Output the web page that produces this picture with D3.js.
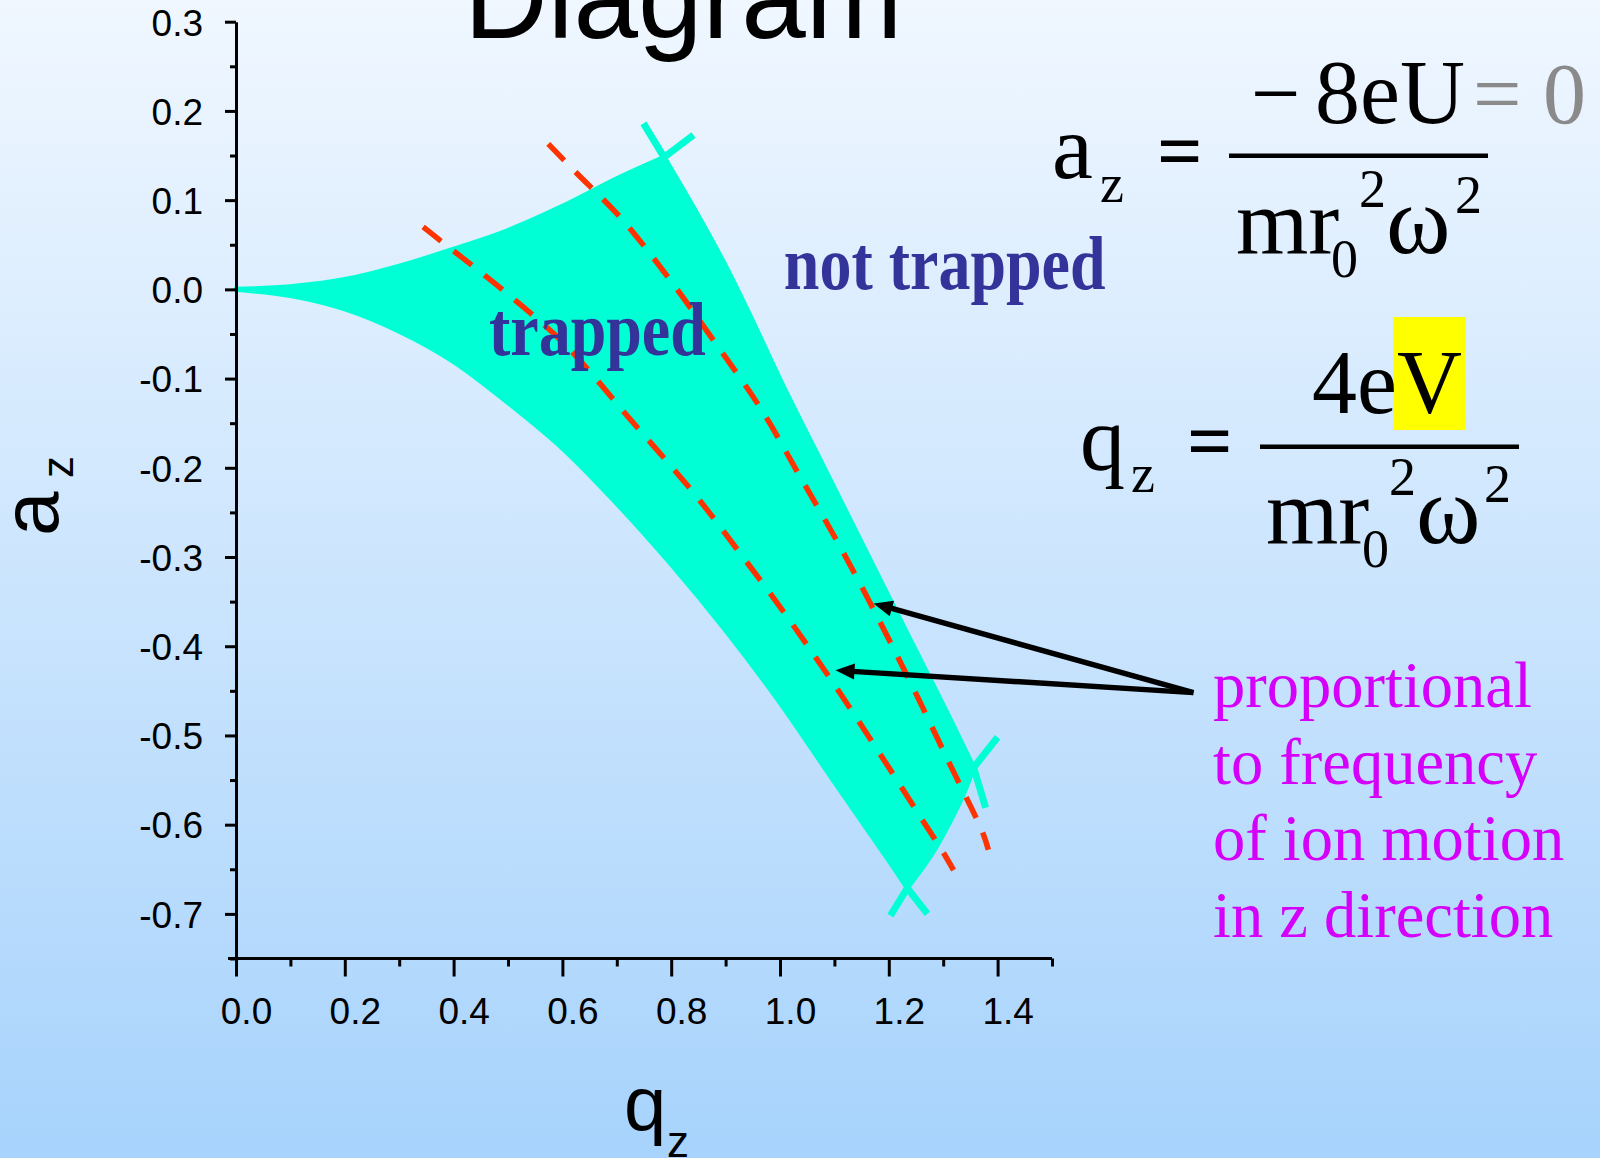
<!DOCTYPE html>
<html><head><meta charset="utf-8">
<script src="https://cdn.jsdelivr.net/npm/d3@7"></script>
<style>html,body{margin:0;padding:0;overflow:hidden;background:#fff}svg{display:block}</style>
</head><body>
<svg id="chart" width="1600" height="1158"></svg>
<script>
// ---------- DATA (q_z, a_z) ----------
// stability boundaries
const betaR0 = [[0,0],[0.1,0.003],[0.2,0.011],[0.3,0.026],[0.4,0.045],[0.5,0.066],[0.6,0.093],[0.7,0.124],[0.787,0.148]];
const betaZ1 = [[0.787,0.148],[0.85,0.082],[0.9,0.026],[0.95,-0.036],[1.0,-0.101],[1.1,-0.223],[1.2,-0.345],[1.3,-0.466],[1.356,-0.536]];
const betaR1 = [[1.356,-0.536],[1.337,-0.566],[1.313,-0.596],[1.28,-0.632],[1.234,-0.671]];
const betaZ0 = [[1.234,-0.671],[1.2,-0.640],[1.1,-0.552],[1.0,-0.463],[0.9,-0.382],[0.8,-0.308],[0.7,-0.240],[0.6,-0.178],[0.5,-0.127],[0.4,-0.081],[0.3,-0.047],[0.2,-0.022],[0.1,-0.007],[0,0]];
// boundary continuations crossing at the corners
const cornerExtensions = [
  [[0.787,0.148],[0.749,0.186]],
  [[0.787,0.148],[0.841,0.173]],
  [[1.356,-0.536],[1.378,-0.581]],
  [[1.356,-0.536],[1.400,-0.502]],
  [[1.234,-0.671],[1.271,-0.700]],
  [[1.234,-0.671],[1.203,-0.702]]
];
// iso-frequency (dashed) lines
const isoLineLeft = [[0.344,0.070],[0.375,0.055],[0.495,-0.003],[0.605,-0.062],[0.721,-0.143],[0.841,-0.228],[0.922,-0.292],[1.019,-0.372],[1.102,-0.445],[1.181,-0.518],[1.262,-0.595],[1.301,-0.632],[1.319,-0.651]];
const isoLineRight = [[0.574,0.163],[0.625,0.131],[0.706,0.081],[0.795,0.013],[0.881,-0.060],[0.964,-0.133],[1.038,-0.211],[1.111,-0.289],[1.179,-0.367],[1.245,-0.447],[1.308,-0.527],[1.372,-0.608],[1.383,-0.628]];
// annotation arrows: tail and tips
const arrowTail = [1.760,-0.452];
const arrowTips = [[1.172,-0.352],[1.102,-0.427]];
// region labels
const regionLabels = [{text:"trapped", q:0.465, a:-0.074},{text:"not trapped", q:1.007, a:0.0}];
// ticks
const yTicks = [-0.7,-0.6,-0.5,-0.4,-0.3,-0.2,-0.1,0.0,0.1,0.2,0.3];
const yMinorTicks = [-0.75,-0.65,-0.55,-0.45,-0.35,-0.25,-0.15,-0.05,0.05,0.15,0.25];
const xTicks = [0.0,0.2,0.4,0.6,0.8,1.0,1.2,1.4];
const xMinorTicks = [0.1,0.3,0.5,0.7,0.9,1.1,1.3,1.5];
const noteLines = ["proportional","to frequency","of ion motion","in z direction"];

// ---------- DRAWING ----------
const W=1600,H=1158;
const SANS="'Liberation Sans', Arial, Helvetica, sans-serif";
const SERIF="'Liberation Serif', 'Times New Roman', Times, serif";
const svg=d3.select('#chart');
const defs=svg.append('defs');
const grad=defs.append('linearGradient').attr('id','bg').attr('x1',0).attr('y1',0).attr('x2',0).attr('y2',1);
grad.append('stop').attr('offset','0%').attr('stop-color','#F0F7FF');
grad.append('stop').attr('offset','100%').attr('stop-color','#A7D3FC');
svg.append('rect').attr('width',W).attr('height',H).attr('fill','url(#bg)');

const x=d3.scaleLinear().domain([0,1.5]).range([236,1052]);
const y=d3.scaleLinear().domain([-0.75,0.3]).range([958.5,21.7]);

// title (cut at top)
svg.append('text').attr('x',464).attr('y',38).attr('font-family',SANS).attr('font-size',116)
  .attr('fill','#000').text('Diagram');

// stability region
const edge=d3.line().x(d=>x(d[0])).y(d=>y(d[1])).curve(d3.curveCatmullRom.alpha(0.5));
const regionPath=[betaR0,betaZ1,betaR1,betaZ0].map((e,i)=>{const s=edge(e);return i===0?s:s.replace(/^M/,'L');}).join('')+'Z';
const CYAN='#00FFD4';
svg.append('path').attr('d',regionPath).attr('fill',CYAN).attr('stroke',CYAN).attr('stroke-width',5).attr('stroke-linejoin','round');
svg.append('g').selectAll('line').data(cornerExtensions).join('line')
  .attr('x1',d=>x(d[0][0])).attr('y1',d=>y(d[0][1])).attr('x2',d=>x(d[1][0])).attr('y2',d=>y(d[1][1]))
  .attr('stroke',CYAN).attr('stroke-width',7);

// dashed iso lines
svg.append('g').selectAll('path').data([isoLineLeft,isoLineRight]).join('path')
  .attr('d',d=>edge(d)).attr('fill','none').attr('stroke','#FF3300').attr('stroke-width',5.5)
  .attr('stroke-dasharray','23,16');

// region labels (bold serif, slightly stretched vertically)
regionLabels.forEach(l=>{
  svg.append('g').attr('transform',`translate(${x(l.q)},${y(l.a)}) scale(1,1.18)`)
    .append('text').attr('font-family',SERIF).attr('font-weight','bold').attr('font-size',64)
    .attr('fill','#333399').text(l.text);
});

// axes
function styleAxis(g){
  g.select('.domain').attr('stroke','#000').attr('stroke-width',3);
  g.selectAll('.tick line').attr('stroke','#000').attr('stroke-width',3);
  g.selectAll('.tick text').attr('font-family',SANS).attr('font-size',37).attr('fill','#000');
}
const gy=svg.append('g').attr('transform',`translate(${x(0)},0)`)
  .call(d3.axisLeft(y).tickValues(yTicks).tickSize(11).tickSizeOuter(0).tickPadding(22).tickFormat(d=>d.toFixed(1)));
styleAxis(gy); gy.selectAll('.tick text').attr('dy','0.36em');
const gym=svg.append('g').attr('transform',`translate(${x(0)},0)`)
  .call(d3.axisLeft(y).tickValues(yMinorTicks).tickSize(6).tickFormat(''));
gym.select('.domain').remove(); gym.selectAll('.tick line').attr('stroke','#000').attr('stroke-width',3);

const gx=svg.append('g').attr('transform',`translate(0,${y(-0.75)})`)
  .call(d3.axisBottom(x).tickValues(xTicks).tickSize(18).tickSizeOuter(0).tickPadding(21).tickFormat(d=>d.toFixed(1)));
styleAxis(gx); gx.selectAll('.tick text').attr('x',10);
gx.select('.domain').attr('d',`M${x(0)-8},0H${x(1.5)}`);
const gxm=svg.append('g').attr('transform',`translate(0,${y(-0.75)})`)
  .call(d3.axisBottom(x).tickValues(xMinorTicks).tickSize(8).tickFormat(''));
gxm.select('.domain').remove(); gxm.selectAll('.tick line').attr('stroke','#000').attr('stroke-width',3);

// axis titles
svg.append('text').attr('transform','translate(58,536) rotate(-90)').attr('font-family',SANS).attr('font-size',80).text('a');
svg.append('text').attr('transform','translate(73,478) rotate(-90)').attr('font-family',SANS).attr('font-size',44).text('z');
svg.append('text').attr('x',624).attr('y',1130).attr('font-family',SANS).attr('font-size',76).text('q');
svg.append('text').attr('x',667).attr('y',1157).attr('font-family',SANS).attr('font-size',44).text('z');

// arrows
const tail=[x(arrowTail[0]),y(arrowTail[1])];
arrowTips.forEach(t=>{
  const tip=[x(t[0]),y(t[1])];
  const dx=tip[0]-tail[0],dy=tip[1]-tail[1],L=Math.hypot(dx,dy),ux=dx/L,uy=dy/L;
  const hl=19,hw=8;
  const base=[tip[0]-ux*hl,tip[1]-uy*hl];
  svg.append('line').attr('x1',tail[0]).attr('y1',tail[1]).attr('x2',base[0]+ux*2).attr('y2',base[1]+uy*2)
    .attr('stroke','#000').attr('stroke-width',5.5).attr('stroke-linecap','butt');
  svg.append('path').attr('d',`M${tip[0]},${tip[1]}L${base[0]-uy*hw},${base[1]+ux*hw}L${base[0]+uy*hw},${base[1]-ux*hw}Z`).attr('fill','#000');
});

// note text
svg.append('g').selectAll('text').data(noteLines).join('text')
  .attr('x',1213).attr('y',(d,i)=>707+i*76.5).attr('font-family',SERIF).attr('font-size',64.5)
  .attr('fill','#D400FA').text(d=>d);

// equations
const eq=svg.append('g').attr('font-family',SERIF).attr('fill','#000');
function t(txt,xx,yy,fs,extra){const e=eq.append('text').attr('x',xx).attr('y',yy).attr('font-size',fs).text(txt);if(extra)extra(e);return e;}
// a_z
t('a',1052,178,92); t('z',1100,202,54);
t('=',1157,178,80,e=>e.attr('font-weight','bold'));
eq.append('rect').attr('x',1229).attr('y',153.5).attr('width',259).attr('height',4.5);
t('\u2212',1251,123,88);
t('8eU',1315,123,90);
t('= 0',1473,123,86,e=>e.attr('fill','#8A8A8A'));
t('mr',1236,253,93); t('0',1331,277,54); t('2',1359,207,54); t('\u03C9',1386,253,98); t('2',1455,213,54);
// q_z
eq.append('rect').attr('x',1393).attr('y',317).attr('width',73).attr('height',113).attr('fill','#FFFF00');
t('q',1080,470,90); t('z',1131,492,54);
t('=',1187,468,80,e=>e.attr('font-weight','bold'));
eq.append('rect').attr('x',1260).attr('y',444.5).attr('width',259).attr('height',4.5);
t('4eV',1312,413,90);
t('mr',1266,543,93); t('0',1362,567,54); t('2',1389,495,54); t('\u03C9',1416,543,98); t('2',1484,502,54);
</script>
</body></html>
